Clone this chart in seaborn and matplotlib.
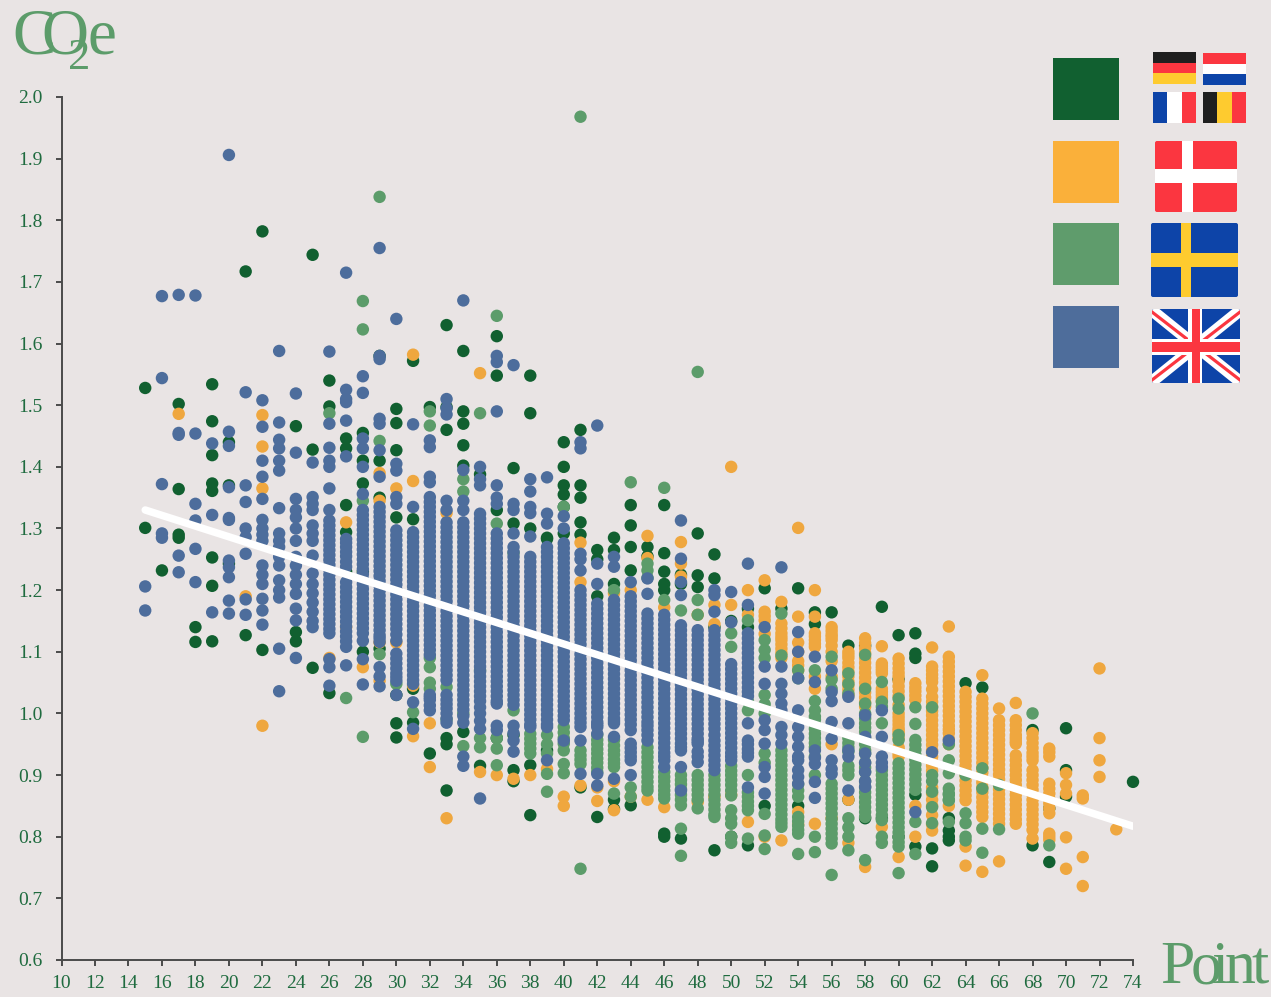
import matplotlib
matplotlib.use("Agg")
import matplotlib.pyplot as plt
import pandas as pd
import seaborn as sns
from matplotlib.patches import FancyBboxPatch, Polygon, Rectangle

BACKGROUND = "#E9E4E4"
DARK = "#116030"
ORANGE = "#EFA73F"
GREEN = "#5C9C6A"
BLUE = "#4D6D9C"

x_ticks = list(range(10, 75, 2))
y_ticks = [0.6, 0.7, 0.8, 0.9, 1.0, 1.1, 1.2, 1.3, 1.4, 1.5, 1.6, 1.7, 1.8, 1.9, 2.0]

trend_x = [15, 74]
trend_y = [1.33, 0.817]

dark_points = [15, 16, 17, 18, 19, 20, 21, 22, 24, 25, 26, 27, 28, 29, 30, 31, 32, 33, 34, 35, 36, 37, 38, 39, 40,
               41, 42, 43, 44, 45, 46, 47, 48, 49, 50, 51, 52, 53, 54, 55, 56, 57, 58, 59, 60, 61, 62, 63, 64, 65,
               68, 69, 70, 74]
dark_co2 = [
    [1.528, 1.301], [1.232], [1.502, 1.364, 1.29, 1.285], [1.14, 1.116],
    [1.534, 1.474, 1.419, 1.373, 1.361, 1.253, 1.207, 1.117], [1.44, 1.37, 1.243], [1.717, 1.127], [1.782, 1.103],
    [1.466, 1.132, 1.117], [1.744, 1.428, 1.074], [1.54, 1.498, 1.033],
    [1.446, 1.43, 1.338, 1.294, 1.23], [1.455, 1.41, 1.373, 1.23, 1.1], [1.58, 1.41, 1.35, 1.105],
    [1.494, 1.471, 1.427, 1.318, 1.03, 0.984, 0.961], [1.572, 1.315, 1.04, 0.985], [1.497, 0.935],
    [1.63, 1.497, 1.46, 0.96, 0.95, 0.875], [1.588, 1.49, 1.47, 1.435, 1.402, 0.97], [1.388, 0.915],
    [1.612, 1.548, 1.33, 0.96], [1.398, 1.308, 0.965, 0.908, 0.89], [1.548, 1.487, 1.3, 0.916, 0.835],
    [1.285, 1.283, 0.94], [1.44, 1.4, 1.37, 1.355, 1.335, 1.292], [1.46, 1.37, 1.35, 1.31, 1.29, 0.88],
    [1.265, 1.25, 1.19, 0.832], [1.285, 1.265, 1.21, 0.86, 0.845], [1.338, 1.305, 1.27, 1.232, 0.851],
    [1.27, 1.255], [1.338, 1.26, 1.23, 1.21, 1.2, 0.805, 0.8], [1.225, 1.21, 0.797], [1.292, 1.224, 1.205],
    [1.258, 1.219, 1.14, 0.778], [1.15, 0.8], [1.17, 1.14, 0.786], [1.203, 0.85], [1.17], [1.203, 0.85],
    [1.164, 1.145], [1.164], [1.11, 0.86], [1.11, 0.83], [1.173, 0.83], [1.127, 1.055, 0.8],
    [1.13, 1.097, 1.09, 0.868, 0.784], [0.781, 0.752], [0.83, 0.81, 0.8, 0.794], [1.049], [1.042],
    [0.973, 0.786], [0.846, 0.759], [0.976, 0.908, 0.865], [0.889],
]

orange_points = [17, 21, 22, 26, 27, 28, 29, 30, 31, 32, 33, 35, 36, 37, 38, 39, 40, 41, 42, 43, 44, 45, 46, 47, 48,
                 49, 50, 51, 52, 53, 54, 55, 56, 57, 58, 59, 60, 61, 62, 63, 64, 65, 66, 67, 68, 69, 70, 71, 72, 73]
orange_co2 = [
    [1.486], [1.19], [1.484, 1.433, 1.365, 0.98], [1.09], [1.31, 1.14], [1.075], [1.39, 1.345, 1.115, 1.053],
    [1.365, 1.115], [1.582, 1.377, 1.045, 0.963], [0.984, 0.913], [1.325, 0.83], [1.552, 0.905], [0.9],
    [0.894], [0.9], [0.91], [0.865, 0.85], [1.277, 1.213, 0.883], [0.858, 0.88], [1.195, 0.89, 0.843],
    [1.2, 0.865], [1.288, 1.252, 0.86], [1.172, 0.848], [1.278, 1.243, 1.222], [1.16, 0.856],
    [1.176, 1.145, 0.865], [1.4, 1.176, 0.868], [1.16, 1.2, 0.824], [1.216, 1.165, 1.151, 1.129, 0.8],
    [1.181, 1.146, 1.13, 1.119, 1.105, 1.09, 0.794],
    [1.301, 1.157, 1.115, 1.085, 1.07, 0.84, 0.82],
    [1.2, 1.157, 1.13, 1.119, 1.108, 1.06, 1.04, 0.821],
    [1.14, 1.128, 1.119, 1.1, 1.085, 1.06, 0.95, 0.83],
    [1.1, 1.09, 1.075, 1.06, 1.045, 1.03, 0.86, 0.79],
    [1.122, 1.106, 1.09, 1.074, 1.058, 1.042, 1.026, 1.011, 0.751],
    [1.109, 1.081, 1.073, 1.065, 1.04, 1.03, 1.02, 0.816],
    [1.089, 1.073, 1.06, 1.044, 1.028, 1.0, 0.988, 0.976, 0.968, 0.94, 0.93, 0.767],
    [1.049, 1.036, 1.022, 0.85, 0.8],
    [1.107, 1.076, 1.063, 1.051, 1.027, 1.011, 0.997, 0.981, 0.965, 0.949, 0.93, 0.915, 0.88, 0.86, 0.835, 0.81],
    [1.141, 1.092, 1.076, 1.06, 1.044, 1.028, 1.012, 0.996, 0.98, 0.968, 0.95, 0.85],
    [1.035, 1.019, 1.003, 0.987, 0.971, 0.955, 0.939, 0.923, 0.907, 0.891, 0.875, 0.859, 0.784, 0.753],
    [1.062, 1.024, 1.008, 0.992, 0.976, 0.96, 0.944, 0.928, 0.912, 0.896, 0.88, 0.864, 0.848, 0.832, 0.743],
    [1.008, 0.989, 0.973, 0.957, 0.941, 0.925, 0.909, 0.893, 0.877, 0.861, 0.845, 0.829, 0.821, 0.76],
    [1.017, 0.989, 0.973, 0.96, 0.951, 0.932, 0.916, 0.9, 0.884, 0.868, 0.852, 0.836, 0.821],
    [0.968, 0.952, 0.936, 0.924, 0.908, 0.892, 0.876, 0.86, 0.844, 0.828, 0.811, 0.797],
    [0.943, 0.93, 0.886, 0.87, 0.854, 0.838, 0.805, 0.795], [0.903, 0.884, 0.87, 0.799, 0.748],
    [0.867, 0.862, 0.767, 0.72], [1.073, 0.96, 0.924, 0.897], [0.812],
]
orange_fill_points = [52, 53, 54, 55, 56, 57, 58, 59, 60, 61, 62, 63, 64, 65, 66, 67, 68, 69]
orange_fill_co2 = [
    [1.158], [1.138, 1.124, 1.112, 1.098], [1.1, 1.078], [1.125, 1.113], [1.134, 1.124, 1.11],
    [1.095, 1.082, 1.068, 1.052, 1.038], [1.114, 1.098, 1.082, 1.066, 1.05, 1.034, 1.018],
    [1.077, 1.069, 1.035, 1.025], [1.081, 1.066, 1.052, 1.036, 1.014, 0.994, 0.982, 0.972, 0.96, 0.945, 0.935],
    [1.042, 1.029], [1.07, 1.057, 1.039, 1.019, 1.004, 0.989, 0.973, 0.957, 0.94, 0.922, 0.907, 0.87, 0.85, 0.82],
    [1.084, 1.068, 1.052, 1.036, 1.02, 1.004, 0.988, 0.974, 0.959],
    [1.027, 1.011, 0.995, 0.979, 0.963, 0.947, 0.931, 0.915, 0.899, 0.883, 0.867],
    [1.016, 1.0, 0.984, 0.968, 0.952, 0.936, 0.92, 0.904, 0.888, 0.872, 0.856, 0.84],
    [0.981, 0.965, 0.949, 0.933, 0.917, 0.901, 0.885, 0.869, 0.853, 0.837],
    [0.981, 0.965, 0.955, 0.924, 0.908, 0.892, 0.876, 0.86, 0.844, 0.828],
    [0.96, 0.944, 0.93, 0.9, 0.884, 0.868, 0.852, 0.836, 0.82], [0.937, 0.878, 0.862, 0.846, 0.8],
]

green_points = [26, 27, 28, 29, 30, 31, 32, 33, 34, 35, 36, 37, 38, 39, 40, 41, 42, 43, 44, 45, 46, 47, 48, 49, 50,
                51, 52, 53, 54, 55, 56, 57, 58, 59, 60, 61, 62, 63, 64, 65, 66, 68, 69]
green_co2 = [
    [1.487], [1.025], [1.669, 1.623, 1.345, 0.962], [1.838, 1.442, 1.096], [1.048], [1.002],
    [1.49, 1.467, 1.09, 1.075, 1.05, 1.04], [1.043, 0.99], [1.38, 1.36, 1.0, 0.947],
    [1.487, 1.07, 0.96, 0.945], [1.645, 1.308, 0.96, 0.943, 0.916], [1.26, 1.005], [0.967, 0.951, 0.935],
    [0.965, 0.95, 0.935, 0.902, 0.873], [1.335, 0.978, 0.96, 0.94, 0.918, 0.903], [1.968, 0.94, 0.925, 0.918, 0.748],
    [0.965, 0.95, 0.935, 0.92, 0.905], [1.2, 0.957, 0.94, 0.925, 0.913, 0.87], [1.375, 0.88, 0.865],
    [1.243, 1.232, 1.22, 0.945, 0.929, 0.913, 0.897, 0.881, 0.875], [1.366, 1.184, 0.905, 0.89, 0.875, 0.862],
    [1.167, 0.9, 0.885, 0.86, 0.851, 0.813, 0.769], [1.554, 1.184, 1.16, 0.9, 0.884, 0.868, 0.846],
    [0.9, 0.884, 0.868, 0.852, 0.836, 0.832], [1.13, 1.108, 0.915, 0.9, 0.884, 0.867, 0.843, 0.83, 0.821, 0.8, 0.79],
    [1.151, 1.02, 1.005, 0.9, 0.865, 0.85, 0.843, 0.797],
    [1.119, 1.103, 1.09, 1.03, 1.015, 1.0, 0.935, 0.92, 0.837, 0.802, 0.78],
    [1.162, 1.094, 0.94, 0.924, 0.908, 0.892, 0.876, 0.86, 0.844, 0.828, 0.816],
    [1.07, 1.057, 0.885, 0.865, 0.832, 0.818, 0.805, 0.772],
    [1.07, 1.02, 1.005, 0.99, 0.975, 0.96, 0.9, 0.93, 0.8, 0.775],
    [1.092, 1.055, 1.04, 0.886, 0.87, 0.854, 0.837, 0.821, 0.805, 0.789, 0.738],
    [1.065, 1.048, 1.032, 0.96, 0.945, 0.915, 0.9, 0.83, 0.815, 0.8, 0.778],
    [1.095, 1.04, 1.016, 1.0, 0.984, 0.97, 0.95, 0.92, 0.88, 0.864, 0.848, 0.832, 0.762],
    [1.051, 1.019, 1.011, 0.984, 0.908, 0.892, 0.876, 0.86, 0.844, 0.827, 0.8, 0.79],
    [1.024, 1.008, 0.965, 0.957, 0.919, 0.903, 0.887, 0.871, 0.855, 0.839, 0.823, 0.807, 0.791, 0.784, 0.741],
    [1.01, 0.983, 0.957, 0.941, 0.925, 0.909, 0.893, 0.876, 0.824, 0.772],
    [1.01, 0.9, 0.89, 0.873, 0.848, 0.822], [0.95, 0.924, 0.903, 0.878, 0.868, 0.859, 0.824],
    [0.9, 0.838, 0.822, 0.8, 0.794], [0.911, 0.878, 0.813, 0.774], [0.884, 0.812], [1.0], [0.786],
]
green_fill_points = [38, 40, 41, 42, 43, 45, 46, 47, 48, 49, 50, 51, 53, 54, 55, 56, 57, 58, 59, 60, 61, 63]
green_fill_co2 = [
    [0.959, 0.943], [0.969, 0.951], [0.932], [0.957, 0.942, 0.927, 0.912], [0.948, 0.933, 0.919],
    [0.937, 0.921, 0.905, 0.889], [0.897, 0.882, 0.868], [0.892, 0.877, 0.868], [0.892, 0.876, 0.86],
    [0.892, 0.876, 0.86, 0.844], [0.907, 0.892, 0.875], [0.857, 0.872],
    [0.932, 0.916, 0.9, 0.884, 0.868, 0.852, 0.836, 0.822], [0.875, 0.825, 0.811],
    [0.995, 0.982, 0.967, 0.952, 0.945], [0.878, 0.862, 0.846, 0.829, 0.813, 0.797], [0.952, 0.938, 0.908],
    [0.992, 0.977, 0.96, 0.94, 0.935, 0.912, 0.905, 0.89, 0.872, 0.856, 0.84], [0.9, 0.884, 0.868, 0.852, 0.835],
    [0.911, 0.895, 0.879, 0.863, 0.847, 0.831, 0.815, 0.799], [0.949, 0.933, 0.917, 0.901, 0.885], [0.87, 0.86],
]

uk_points = [15, 16, 17, 18, 19, 20, 21, 22, 23, 24, 25, 26, 27, 28, 29, 30, 31, 32, 33, 34, 35, 36, 37, 38, 39, 40,
             41, 42, 43, 44, 45, 46, 47, 48, 49, 50, 51, 52, 53, 54, 55, 56, 57, 58, 59, 61, 62, 63]
uk_co2 = [
    [1.206, 1.167], [1.677, 1.544, 1.372, 1.292, 1.285], [1.679, 1.455, 1.452, 1.256, 1.229],
    [1.678, 1.454, 1.34, 1.313, 1.267, 1.213], [1.438, 1.322, 1.164],
    [1.906, 1.457, 1.434, 1.367, 1.317, 1.314, 1.248, 1.237, 1.221, 1.183, 1.162],
    [1.521, 1.37, 1.343, 1.3, 1.286, 1.259, 1.185, 1.16],
    [1.508, 1.465, 1.41, 1.384, 1.348, 1.314, 1.3, 1.29, 1.28, 1.24, 1.225, 1.21, 1.186, 1.167, 1.144],
    [1.588, 1.472, 1.444, 1.43, 1.41, 1.394, 1.333, 1.292, 1.28, 1.27, 1.254, 1.24, 1.216, 1.2, 1.188, 1.105, 1.036],
    [1.519, 1.423, 1.348, 1.33, 1.318, 1.3, 1.28, 1.254, 1.24, 1.225, 1.21, 1.194, 1.17, 1.151, 1.09],
    [1.407, 1.351, 1.34, 1.33, 1.305, 1.292, 1.28, 1.256, 1.227, 1.21, 1.195, 1.18, 1.165, 1.15, 1.14],
    [1.587, 1.47, 1.431, 1.41, 1.4, 1.365, 1.33, 1.313, 1.297, 1.281, 1.265, 1.249, 1.233, 1.217, 1.201, 1.185,
     1.169, 1.153, 1.137, 1.13, 1.088, 1.075, 1.045],
    [1.715, 1.525, 1.51, 1.505, 1.475, 1.417, 1.283, 1.27, 1.255, 1.238, 1.213, 1.197, 1.181, 1.165, 1.149, 1.133,
     1.117, 1.108, 1.078],
    [1.547, 1.52, 1.446, 1.43, 1.4, 1.356, 1.33, 1.314, 1.298, 1.282, 1.266, 1.25, 1.234, 1.218, 1.202, 1.186,
     1.17, 1.154, 1.138, 1.118, 1.088, 1.047],
    [1.755, 1.58, 1.575, 1.478, 1.47, 1.427, 1.384, 1.335, 1.319, 1.303, 1.287, 1.271, 1.255, 1.239, 1.223, 1.207,
     1.191, 1.175, 1.159, 1.143, 1.127, 1.116, 1.075, 1.06, 1.044],
    [1.64, 1.405, 1.394, 1.351, 1.34, 1.297, 1.281, 1.265, 1.249, 1.233, 1.217, 1.201, 1.185, 1.169, 1.153, 1.137,
     1.118, 1.097, 1.081, 1.065, 1.053, 1.03],
    [1.469, 1.335, 1.294, 1.278, 1.262, 1.246, 1.23, 1.214, 1.198, 1.182, 1.166, 1.15, 1.134, 1.118, 1.102, 1.086,
     1.07, 1.054, 1.048, 1.018, 0.975],
    [1.443, 1.432, 1.384, 1.375, 1.351, 1.335, 1.319, 1.303, 1.287, 1.271, 1.255, 1.239, 1.223, 1.207, 1.191, 1.175,
     1.159, 1.143, 1.127, 1.111, 1.095, 1.03, 1.022, 1.005],
    [1.51, 1.495, 1.485, 1.345, 1.33, 1.31, 1.294, 1.278, 1.262, 1.246, 1.23, 1.214, 1.198, 1.182, 1.166, 1.15,
     1.134, 1.118, 1.102, 1.086, 1.07, 1.054, 1.03, 1.015, 1.0, 0.985],
    [1.67, 1.395, 1.345, 1.33, 1.31, 1.294, 1.278, 1.262, 1.246, 1.23, 1.214, 1.198, 1.182, 1.166, 1.15, 1.134,
     1.118, 1.102, 1.086, 1.07, 1.054, 1.038, 1.022, 1.006, 0.985, 0.93, 0.915],
    [1.4, 1.38, 1.37, 1.324, 1.308, 1.292, 1.276, 1.26, 1.244, 1.228, 1.212, 1.196, 1.18, 1.164, 1.148, 1.132, 1.116,
     1.1, 1.084, 1.068, 1.052, 1.036, 1.02, 1.0, 0.988, 0.975, 0.862],
    [1.58, 1.57, 1.49, 1.37, 1.35, 1.34, 1.292, 1.276, 1.26, 1.244, 1.228, 1.212, 1.196, 1.18, 1.164, 1.148, 1.132,
     1.116, 1.1, 1.084, 1.068, 1.052, 1.036, 1.02, 1.016, 0.98, 0.973],
    [1.565, 1.34, 1.33, 1.292, 1.27, 1.254, 1.238, 1.222, 1.206, 1.19, 1.174, 1.158, 1.142, 1.126, 1.11, 1.094, 1.078,
     1.062, 1.046, 1.03, 1.014, 0.98, 0.968, 0.956, 0.938],
    [1.38, 1.36, 1.335, 1.325, 1.287, 1.254, 1.238, 1.222, 1.206, 1.19, 1.174, 1.158, 1.142, 1.126, 1.11, 1.094, 1.078,
     1.062, 1.046, 1.03, 1.014, 0.998, 0.982, 0.978],
    [1.383, 1.324, 1.308, 1.27, 1.254, 1.238, 1.222, 1.206, 1.19, 1.174, 1.158, 1.142, 1.126, 1.11, 1.094, 1.078, 1.062,
     1.046, 1.03, 1.014, 0.998, 0.982, 0.978, 0.924],
    [1.32, 1.3, 1.276, 1.26, 1.244, 1.228, 1.212, 1.196, 1.18, 1.164, 1.148, 1.132, 1.116, 1.1, 1.084, 1.068, 1.052,
     1.036, 1.02, 1.004, 0.989, 0.956],
    [1.44, 1.43, 1.259, 1.25, 1.232, 1.2, 1.184, 1.168, 1.152, 1.136, 1.12, 1.104, 1.088, 1.072, 1.056, 1.04, 1.024,
     1.008, 0.992, 0.978, 0.956, 0.902],
    [1.467, 1.243, 1.21, 1.178, 1.162, 1.146, 1.13, 1.114, 1.098, 1.082, 1.066, 1.05, 1.034, 1.018, 1.002, 0.986, 0.978,
     0.967, 0.902, 0.883],
    [1.254, 1.238, 1.184, 1.168, 1.152, 1.136, 1.12, 1.104, 1.088, 1.072, 1.056, 1.04, 1.024, 1.008, 0.992, 0.984, 0.962,
     0.894],
    [1.213, 1.19, 1.174, 1.158, 1.142, 1.126, 1.11, 1.094, 1.078, 1.062, 1.046, 1.03, 1.014, 0.998, 0.982, 0.973, 0.951,
     0.937, 0.924, 0.9],
    [1.219, 1.194, 1.162, 1.146, 1.13, 1.114, 1.098, 1.082, 1.066, 1.05, 1.034, 1.018, 1.002, 0.986, 0.973, 0.956],
    [1.16, 1.144, 1.128, 1.112, 1.096, 1.08, 1.064, 1.048, 1.032, 1.016, 1.0, 0.984, 0.968, 0.952, 0.936, 0.924, 0.913],
    [1.313, 1.251, 1.213, 1.192, 1.143, 1.127, 1.111, 1.095, 1.079, 1.063, 1.047, 1.031, 1.015, 0.999, 0.983, 0.967,
     0.951, 0.94, 0.913, 0.875],
    [1.135, 1.119, 1.103, 1.087, 1.071, 1.055, 1.039, 1.023, 1.007, 0.991, 0.975, 0.959, 0.951, 0.938, 0.921],
    [1.2, 1.192, 1.165, 1.135, 1.119, 1.103, 1.087, 1.071, 1.055, 1.039, 1.023, 1.007, 0.991, 0.975, 0.956, 0.94, 0.924,
     0.908],
    [1.197, 1.148, 1.08, 1.064, 1.048, 1.032, 1.016, 1.0, 0.984, 0.968, 0.952, 0.936, 0.924],
    [1.243, 1.176, 1.13, 1.114, 1.098, 1.082, 1.066, 1.05, 1.035, 0.984, 0.956, 0.942, 0.93, 0.88],
    [1.14, 1.076, 1.048, 0.989, 0.973, 0.951, 0.913, 0.897, 0.87], [1.237, 1.076, 1.048, 1.032, 1.016, 1.005, 0.978, 0.965, 0.951],
    [1.132, 1.1, 1.057, 1.005, 0.978, 0.962, 0.946, 0.93, 0.924, 0.908, 0.897, 0.886],
    [1.092, 1.051, 0.94, 0.928, 0.918, 0.889, 0.863], [1.07, 1.035, 1.02, 0.986, 0.959, 0.924, 0.91, 0.902],
    [1.027, 0.984, 0.94, 0.93, 0.875], [0.997, 0.962, 0.935, 0.92, 0.905, 0.89, 0.881], [1.005, 0.962, 0.93, 0.92, 0.913],
    [0.84], [0.937], [0.956],
]
uk_fill_points = [26, 27, 28, 29, 30, 31, 32, 33, 34, 35, 36, 37, 38, 39, 40, 41, 42, 43, 44, 45, 46, 47, 48, 49, 50, 51]
uk_fill_co2 = [
    [1.305, 1.289, 1.273, 1.257, 1.241, 1.225, 1.209, 1.193, 1.177, 1.161, 1.145],
    [1.277, 1.262, 1.246, 1.205, 1.189, 1.173, 1.157, 1.141, 1.125],
    [1.322, 1.306, 1.29, 1.274, 1.258, 1.242, 1.226, 1.21, 1.194, 1.178, 1.162, 1.146, 1.13],
    [1.327, 1.311, 1.295, 1.279, 1.263, 1.247, 1.231, 1.215, 1.199, 1.183, 1.167, 1.151, 1.135, 1.122],
    [1.289, 1.273, 1.257, 1.241, 1.225, 1.209, 1.193, 1.177, 1.161, 1.145, 1.128, 1.089, 1.073, 1.059],
    [1.286, 1.27, 1.254, 1.238, 1.222, 1.206, 1.19, 1.174, 1.158, 1.142, 1.126, 1.11, 1.094, 1.078, 1.062],
    [1.343, 1.327, 1.311, 1.295, 1.279, 1.263, 1.247, 1.231, 1.215, 1.199, 1.183, 1.167, 1.151, 1.135, 1.119, 1.103,
     1.026, 1.013],
    [1.302, 1.286, 1.27, 1.254, 1.238, 1.222, 1.206, 1.19, 1.174, 1.158, 1.142, 1.126, 1.11, 1.094, 1.078, 1.062,
     1.022, 1.008, 0.992],
    [1.302, 1.286, 1.27, 1.254, 1.238, 1.222, 1.206, 1.19, 1.174, 1.158, 1.142, 1.126, 1.11, 1.094, 1.078, 1.062,
     1.046, 1.03, 1.014, 0.996],
    [1.316, 1.3, 1.284, 1.268, 1.252, 1.236, 1.22, 1.204, 1.188, 1.172, 1.156, 1.14, 1.124, 1.108, 1.092, 1.076,
     1.06, 1.044, 1.028, 1.01],
    [1.284, 1.268, 1.252, 1.236, 1.22, 1.204, 1.188, 1.172, 1.156, 1.14, 1.124, 1.108, 1.092, 1.076, 1.06, 1.044,
     1.028],
    [1.262, 1.246, 1.23, 1.214, 1.198, 1.182, 1.166, 1.15, 1.134, 1.118, 1.102, 1.086, 1.07, 1.054, 1.038, 1.022],
    [1.246, 1.23, 1.214, 1.198, 1.182, 1.166, 1.15, 1.134, 1.118, 1.102, 1.086, 1.07, 1.054, 1.038, 1.022, 1.006,
     0.99],
    [1.262, 1.246, 1.23, 1.214, 1.198, 1.182, 1.166, 1.15, 1.134, 1.118, 1.102, 1.086, 1.07, 1.054, 1.038, 1.022,
     1.006, 0.99],
    [1.268, 1.252, 1.236, 1.22, 1.204, 1.188, 1.172, 1.156, 1.14, 1.124, 1.108, 1.092, 1.076, 1.06, 1.044, 1.028,
     1.012, 0.996],
    [1.192, 1.176, 1.16, 1.144, 1.128, 1.112, 1.096, 1.08, 1.064, 1.048, 1.032, 1.016, 1.0, 0.985],
    [1.17, 1.154, 1.138, 1.122, 1.106, 1.09, 1.074, 1.058, 1.042, 1.026, 1.01, 0.994, 0.982],
    [1.176, 1.16, 1.144, 1.128, 1.112, 1.096, 1.08, 1.064, 1.048, 1.032, 1.016, 1.0, 0.988],
    [1.182, 1.166, 1.15, 1.134, 1.118, 1.102, 1.086, 1.07, 1.054, 1.038, 1.022, 1.006, 0.99, 0.944, 0.93],
    [1.154, 1.138, 1.122, 1.106, 1.09, 1.074, 1.058, 1.042, 1.026, 1.01, 0.994, 0.98, 0.965],
    [1.152, 1.136, 1.12, 1.104, 1.088, 1.072, 1.056, 1.04, 1.024, 1.008, 0.992, 0.976, 0.96, 0.944, 0.93],
    [1.135, 1.119, 1.103, 1.087, 1.071, 1.055, 1.039, 1.023, 1.007, 0.991, 0.975, 0.959, 0.945],
    [1.127, 1.111, 1.095, 1.079, 1.063, 1.047, 1.031, 1.015, 0.999, 0.983, 0.967, 0.955, 0.93],
    [1.127, 1.111, 1.095, 1.079, 1.063, 1.047, 1.031, 1.015, 0.999, 0.983, 0.965, 0.948, 0.932, 0.916],
    [1.072, 1.056, 1.04, 1.024, 1.008, 0.992, 0.976, 0.96, 0.944, 0.93],
    [1.122, 1.106, 1.09, 1.074, 1.058, 1.042, 1.028, 0.95, 0.936],
]


def series_frame(country, points, co2):
    df = pd.DataFrame({"Point": points, "CO2e": co2, "Country": country})
    return df.explode("CO2e").astype({"CO2e": float})


def pixel_rect(ax, left, top, right, bottom, color):
    ax.add_patch(Rectangle((left, top), right - left, bottom - top, facecolor=color, edgecolor="none"))


def stripes(ax, left, top, right, bottom, colors, vertical=False):
    n = len(colors)
    for i, color in enumerate(colors):
        if vertical:
            step = (right - left) / n
            pixel_rect(ax, left + i * step, top, left + (i + 1) * step, bottom, color)
        else:
            step = (bottom - top) / n
            pixel_rect(ax, left, top + i * step, right, top + (i + 1) * step, color)


def draw_legend(ax):
    for top, color in zip([58, 141, 223, 306], ["#116030", "#FAB03A", "#5F9C6C", "#4E6D9B"]):
        pixel_rect(ax, 1053, top, 1119, top + 62, color)

    red = "#FB3640"
    navy = "#0D44A8"
    yellow = "#FECB2F"
    black = "#1F1F1F"
    stripes(ax, 1153, 52, 1196, 84, [black, red, yellow])
    stripes(ax, 1203, 53, 1246, 85, [red, "white", navy])
    stripes(ax, 1153, 92, 1196, 123, [navy, "white", red], vertical=True)
    stripes(ax, 1203, 92, 1246, 123, [black, yellow, red], vertical=True)

    # denmark
    ax.add_patch(FancyBboxPatch((1157, 143), 78, 67, boxstyle="round,pad=2", facecolor=red, edgecolor="none"))
    pixel_rect(ax, 1182, 141, 1193, 212, "white")
    pixel_rect(ax, 1155, 169, 1237, 183, "white")

    # sweden
    ax.add_patch(FancyBboxPatch((1153, 225), 83, 70, boxstyle="round,pad=2", facecolor=navy, edgecolor="none"))
    pixel_rect(ax, 1181, 223, 1191, 297, yellow)
    pixel_rect(ax, 1151, 253, 1238, 267, yellow)

    # uk
    left, top, right, bottom = 1152, 309, 1240, 383
    clip = FancyBboxPatch((left + 2, top + 2), right - left - 4, bottom - top - 4, boxstyle="round,pad=2",
                          facecolor=navy, edgecolor="none")
    ax.add_patch(clip)
    for (x0, x1) in [(left, right), (right, left)]:
        white = Polygon([(x0, top - 6), (x0, top + 9), (x1, bottom + 6), (x1, bottom - 9)], facecolor="white",
                        edgecolor="none")
        thin = Polygon([(x0, top + 1), (x0, top + 5), (x1, bottom - 1), (x1, bottom - 5)], facecolor=red,
                       edgecolor="none")
        for patch in (white, thin):
            ax.add_patch(patch)
            patch.set_clip_path(clip)
    pixel_rect(ax, 1188, top, 1202, bottom, "white")
    pixel_rect(ax, left, 339, right, 355, "white")
    pixel_rect(ax, 1192, top, 1200, bottom, red)
    pixel_rect(ax, left, 342, right, 352, red)


def draw_wordmarks(ax):
    for x, y, glyph, size in [(12, 53, "C", 47), (41, 53, "O", 47), (68, 69, "2", 32), (88, 53, "e", 47),
                              (1160, 983, "P", 44.6), (1191, 983, "o", 44.6), (1212, 983, "i", 44.6),
                              (1225, 983, "n", 44.6), (1251, 983, "t", 44.6)]:
        ax.text(x, y, glyph, color=GREEN, fontsize=size, ha="left", va="baseline")


def plot():
    sns.set_theme(style="ticks")
    plt.rcParams["font.family"] = ["Liberation Serif", "DejaVu Serif"]

    df = pd.concat([
        series_frame("Central Europe", dark_points, dark_co2),
        series_frame("Denmark", orange_points, orange_co2),
        series_frame("Denmark", orange_fill_points, orange_fill_co2),
        series_frame("Sweden", green_points, green_co2),
        series_frame("Sweden", green_fill_points, green_fill_co2),
        series_frame("UK", uk_points, uk_co2),
        series_frame("UK", uk_fill_points, uk_fill_co2),
    ], ignore_index=True)

    fig = plt.figure(figsize=(12.71, 9.97), dpi=100, facecolor=BACKGROUND)
    ax = fig.add_axes([61.5 / 1271, 1 - 960 / 997, (1133 - 61.5) / 1271, (960 - 97) / 997], facecolor=BACKGROUND)

    sns.scatterplot(data=df, x="Point", y="CO2e", hue="Country", ax=ax, s=80, linewidth=0, alpha=1, legend=False,
                    palette={"Central Europe": DARK, "Denmark": ORANGE, "Sweden": GREEN, "UK": BLUE},
                    clip_on=False, zorder=2)
    sns.lineplot(x=trend_x, y=trend_y, ax=ax, color="white", linewidth=5.4, zorder=3, solid_capstyle="round")

    ax.set_xlim(10, 74)
    ax.set_ylim(0.6, 2.0)
    ax.set_xticks(x_ticks)
    ax.set_yticks(y_ticks)
    ax.set_yticklabels([f"{v:.1f}" for v in y_ticks])
    ax.set_xlabel("")
    ax.set_ylabel("")
    sns.despine(ax=ax)
    for side in ("left", "bottom"):
        ax.spines[side].set_color("#4A4A4A")
        ax.spines[side].set_linewidth(1.4)
    ax.tick_params(axis="x", length=4.5, width=1.4, color="#4A4A4A", labelcolor="#1F6B3F", labelsize=14, pad=6)
    ax.tick_params(axis="y", length=4.5, width=1.4, color="#4A4A4A", labelcolor="#1F6B3F", labelsize=14, pad=9)

    deco = fig.add_axes([0, 0, 1, 1], facecolor="none")
    deco.set_xlim(0, 1271)
    deco.set_ylim(997, 0)
    deco.axis("off")
    draw_legend(deco)
    draw_wordmarks(deco)

    fig.savefig("out.png", dpi=100, facecolor=BACKGROUND)


if __name__ == "__main__":
    plot()
